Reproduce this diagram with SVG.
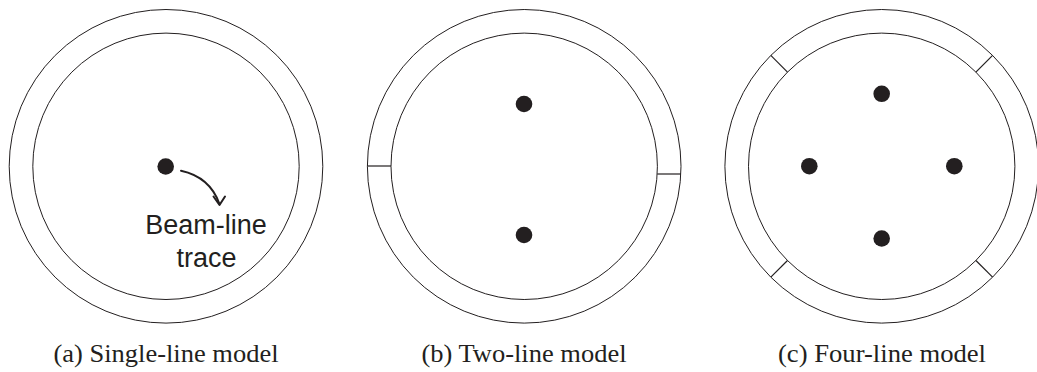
<svg xmlns="http://www.w3.org/2000/svg" width="1037" height="372" viewBox="0 0 1037 372">
<style>
.ring{fill:none;stroke:#231f20;stroke-width:1}
.sep{stroke:#231f20;stroke-width:1.2}
.dot{fill:#231f20}
.lbl{font-family:"Liberation Sans",Arial,sans-serif;font-size:27px;fill:#231f20;text-anchor:middle}
.cap{font-family:"Liberation Serif","Times New Roman",serif;font-size:25px;fill:#231f20;text-anchor:middle}
.arr{fill:none;stroke:#231f20;stroke-width:2;stroke-linecap:round;stroke-linejoin:round}
</style>
<rect width="1037" height="372" fill="#fff"/>
<g id="model-a">
<circle class="ring" cx="166" cy="166.3" r="156.8"/>
<circle class="ring" cx="166" cy="166.3" r="133.2"/>
<circle class="dot" cx="165.7" cy="166.5" r="8.3"/>
<text class="lbl" x="206" y="234">Beam-line</text>
<text class="lbl" x="206.5" y="266.5">trace</text>
</g>
<g id="model-b">
<circle class="ring" cx="524.2" cy="166.3" r="156.8"/>
<circle class="ring" cx="524.2" cy="166.3" r="133.2"/>
<line class="sep" x1="367.4" y1="166" x2="391" y2="166"/>
<line class="sep" x1="657.2" y1="174" x2="680.8" y2="174"/>
<circle class="dot" cx="524" cy="104" r="8.3"/>
<circle class="dot" cx="524" cy="235" r="8.3"/>
</g>
<g id="model-c">
<circle class="ring" cx="881.7" cy="166.3" r="156.8"/>
<circle class="ring" cx="881.7" cy="166.3" r="133.2"/>
<line class="sep" x1="770.8" y1="55.4" x2="787.5" y2="72.1"/>
<line class="sep" x1="992.6" y1="55.4" x2="975.9" y2="72.1"/>
<line class="sep" x1="770.8" y1="277.2" x2="787.5" y2="260.5"/>
<line class="sep" x1="992.6" y1="277.2" x2="975.9" y2="260.5"/>
<circle class="dot" cx="881.7" cy="93.8" r="8.3"/>
<circle class="dot" cx="809.3" cy="166.2" r="8.3"/>
<circle class="dot" cx="954.3" cy="166.2" r="8.3"/>
<circle class="dot" cx="881.7" cy="238.5" r="8.3"/>
</g>
<g id="connectors">
<path class="arr" d="M181,170.7 Q210,177 219.5,204"/>
<path class="arr" d="M213.5,196.5 L219.5,205 L225,196.5"/>
</g>
<g id="captions">
<text class="cap" x="166" y="362" textLength="225" lengthAdjust="spacingAndGlyphs">(a) Single-line model</text>
<text class="cap" x="524" y="362" textLength="205" lengthAdjust="spacingAndGlyphs">(b) Two-line model</text>
<text class="cap" x="882" y="362" textLength="208" lengthAdjust="spacingAndGlyphs">(c) Four-line model</text>
</g>
</svg>
